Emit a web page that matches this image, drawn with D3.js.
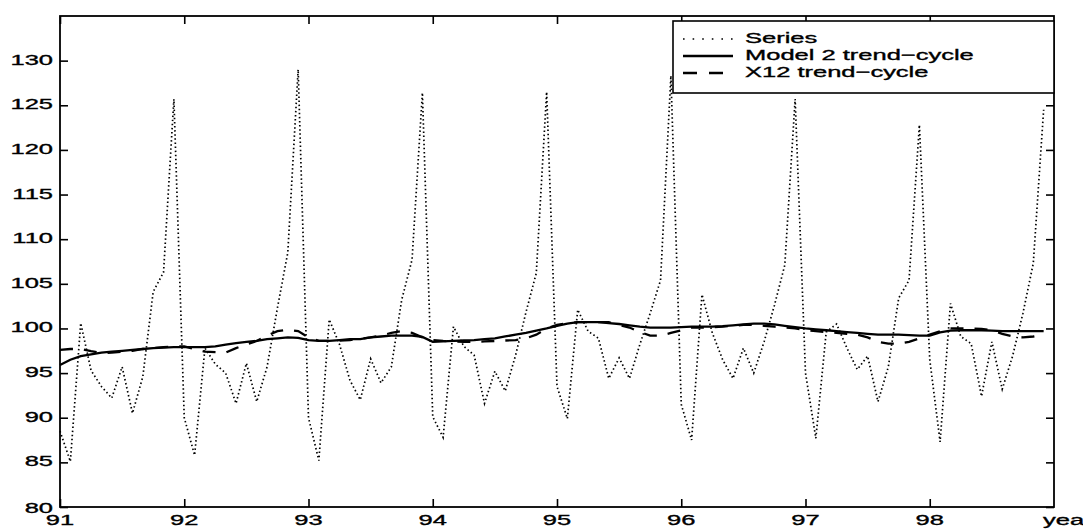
<!DOCTYPE html>
<html><head><meta charset="utf-8">
<script src="https://cdn.jsdelivr.net/npm/d3@7"></script>
<style>
html,body{margin:0;padding:0;background:#fff;}
svg{display:block;}
text{font-family:"Liberation Sans",Arial,Helvetica,sans-serif;fill:#000;stroke:#000;stroke-width:0.35px;}
</style></head>
<body>
<svg id="chart" width="1083" height="531"></svg>
<script>
const startYear = 91;
const endYear = 99;
const yearTicks = [91, 92, 93, 94, 95, 96, 97, 98];
const yTicks = [80, 85, 90, 95, 100, 105, 110, 115, 120, 125, 130];
const xLabel = "year";
const legendLabels = ["Series", "Model 2 trend\u2212cycle", "X12 trend\u2212cycle"];

// monthly observations, Jan 91 .. Dec 98
const series = [
  88.5, 85.1, 100.6, 95.3, 93.5, 92.2, 95.7, 90.5, 94.6, 104.1, 106.3, 125.7,
  90.0, 85.8, 97.8, 96.0, 95.0, 91.6, 96.1, 91.8, 95.7, 102.3, 108.5, 129.0,
  90.0, 85.2, 101.0, 98.2, 94.2, 92.0, 96.6, 93.9, 95.7, 103.2, 107.7, 126.4,
  90.1, 87.8, 100.2, 98.0, 97.0, 91.6, 95.2, 93.0, 97.0, 101.8, 106.2, 126.5,
  93.5, 89.9, 102.1, 99.7, 98.9, 94.4, 96.7, 94.4, 98.2, 101.7, 105.4, 128.3,
  91.5, 87.5, 103.8, 99.5, 96.5, 94.4, 97.8, 95.0, 98.5, 102.6, 107.1, 125.7,
  95.0, 87.7, 99.6, 100.5, 97.8, 95.4, 96.9, 91.8, 95.7, 103.4, 105.4, 122.8,
  96.5, 87.3, 102.8, 99.1, 98.3, 92.4, 98.5, 93.2, 96.9, 101.7, 107.3, 124.5
];

const model2Trend = [
  95.9, 96.5, 96.9, 97.1, 97.3, 97.4, 97.5, 97.6, 97.7, 97.8, 97.85, 97.9,
  97.9, 97.9, 97.9, 98.0, 98.2, 98.35, 98.5, 98.6, 98.8, 98.9, 99.0, 98.95,
  98.7, 98.6, 98.6, 98.7, 98.8, 98.8, 99.0, 99.1, 99.2, 99.2, 99.2, 99.05,
  98.5, 98.55, 98.6, 98.65, 98.7, 98.8, 98.9, 99.1, 99.3, 99.5, 99.75, 100.0,
  100.3, 100.55, 100.7, 100.7, 100.7, 100.6, 100.5, 100.35, 100.2, 100.1, 100.1, 100.1,
  100.15, 100.2, 100.2, 100.2, 100.25, 100.35, 100.45, 100.55, 100.55, 100.45, 100.3, 100.15,
  100.0, 99.9, 99.8, 99.7, 99.6, 99.5, 99.4, 99.3, 99.3, 99.3, 99.25, 99.2,
  99.2, 99.55, 99.75, 99.8, 99.8, 99.8, 99.75, 99.7, 99.7, 99.7, 99.7, 99.7
];

const x12Trend = [
  97.6, 97.7, 97.7, 97.45, 97.25, 97.3, 97.4, 97.5, 97.7, 97.8, 97.9, 98.0,
  98.0, 97.7, 97.4, 97.35, 97.3, 97.8, 98.2, 98.6, 99.2, 99.7, 99.85, 99.7,
  99.0, 98.6, 98.6, 98.65, 98.7, 98.85, 99.0, 99.2, 99.5, 99.7, 99.5, 99.0,
  98.7, 98.6, 98.55, 98.5, 98.5, 98.55, 98.6, 98.65, 98.7, 98.9, 99.3, 100.0,
  100.4, 100.6, 100.7, 100.7, 100.7, 100.7, 100.4, 100.1, 99.6, 99.2, 99.2, 99.5,
  99.8, 100.1, 100.1, 100.15, 100.2, 100.3, 100.4, 100.4, 100.3, 100.2, 100.1, 100.0,
  99.8, 99.7, 99.6, 99.5, 99.4, 99.3, 99.0, 98.5, 98.3, 98.3, 98.5, 98.9,
  99.3, 99.7, 100.0, 100.0, 100.0, 99.95, 99.8, 99.4, 99.1, 99.0, 99.1, 99.3
];

const svg = d3.select("#chart");
const L = 60, R = 1054, T = 16, B = 507;
const FS = 15, SX = 1.7;

const x = d3.scaleLinear().domain([startYear, endYear]).range([L, R]);
const y = d3.scaleLinear().domain([80, 135]).range([B, T]);
const tOf = i => startYear + i / 12;

const line = arr => d3.line().x((d, i) => x(tOf(i))).y(d => y(d))(arr);

const plot = svg.append("g");
plot.append("path").attr("d", line(series)).attr("fill", "none")
  .attr("stroke", "#000").attr("stroke-width", 1.7).attr("stroke-dasharray", "1.5,2.6");
plot.append("path").attr("d", line(x12Trend)).attr("fill", "none")
  .attr("stroke", "#000").attr("stroke-width", 2.3).attr("stroke-dasharray", "13,11");
plot.append("path").attr("d", line(model2Trend)).attr("fill", "none")
  .attr("stroke", "#000").attr("stroke-width", 2.3);

// axes (MATLAB-style, ticks inward on all four sides)
const tk = 8;
const axB = d3.axisBottom(x).tickValues(yearTicks).tickSize(tk).tickFormat(d3.format("d")).tickSizeOuter(0);
const gB = svg.append("g").attr("transform", `translate(0,${B})`).call(axB);
gB.selectAll(".tick line").attr("y2", -tk);
gB.selectAll(".tick text").remove();

const axT = d3.axisTop(x).tickValues(yearTicks).tickSize(tk).tickFormat("").tickSizeOuter(0);
const gT = svg.append("g").attr("transform", `translate(0,${T})`).call(axT);
gT.selectAll(".tick line").attr("y2", tk);

const axL = d3.axisLeft(y).tickValues(yTicks).tickSize(tk).tickFormat("").tickSizeOuter(0);
const gL = svg.append("g").attr("transform", `translate(${L},0)`).call(axL);
gL.selectAll(".tick line").attr("x2", tk);

const axR = d3.axisRight(y).tickValues(yTicks).tickSize(tk).tickFormat("").tickSizeOuter(0);
const gR = svg.append("g").attr("transform", `translate(${R},0)`).call(axR);
gR.selectAll(".tick line").attr("x2", -tk);

[gB, gT, gL, gR].forEach(g => {
  g.select(".domain").remove();
  g.selectAll(".tick line").attr("stroke", "#000").attr("stroke-width", 1.6);
});

svg.append("rect").attr("x", L).attr("y", T).attr("width", R - L).attr("height", B - T)
  .attr("fill", "none").attr("stroke", "#000").attr("stroke-width", 1.8);

// tick labels (stretched horizontally like the source)
function stretchedText(g, tx, ty, str, anchor) {
  return g.append("text").attr("transform", `translate(${tx},${ty}) scale(${SX},1)`)
    .attr("text-anchor", anchor).attr("dominant-baseline", "middle")
    .style("font-size", FS + "px").text(str);
}
const labels = svg.append("g");
yTicks.forEach(v => stretchedText(labels, L - 7, y(v) + (v === 80 ? 2 : 0), String(v), "end"));
yearTicks.forEach(v => stretchedText(labels, x(v), 521, String(v), "middle"));
stretchedText(labels, 1043, 521, xLabel, "start");

// legend
const lg = svg.append("g");
const lgX0 = 673, lgY0 = 21, lgY1 = 93;
lg.append("rect").attr("x", lgX0).attr("y", lgY0).attr("width", R - lgX0).attr("height", lgY1 - lgY0)
  .attr("fill", "#fff").attr("stroke", "#000").attr("stroke-width", 1.6);
const rows = [39, 56, 73];
const styles = [
  {w: 1.6, dash: "1.6,8"},
  {w: 2.3, dash: null},
  {w: 2.3, dash: "14,12"}
];
legendLabels.forEach((lab, i) => {
  const ln = lg.append("line").attr("x1", 683).attr("x2", 733).attr("y1", rows[i]).attr("y2", rows[i])
    .attr("stroke", "#000").attr("stroke-width", styles[i].w);
  if (styles[i].dash) ln.attr("stroke-dasharray", styles[i].dash);
  stretchedText(lg, 745, rows[i], lab, "start");
});
</script>
</body></html>
